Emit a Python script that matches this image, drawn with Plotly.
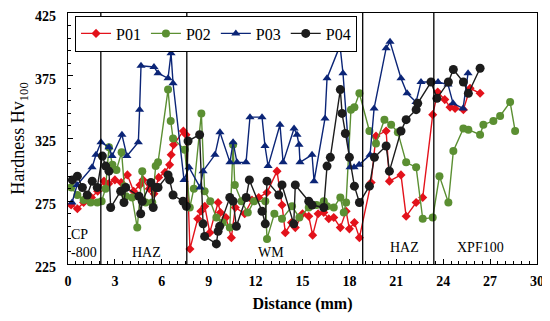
import plotly.graph_objects as go

# ---------------- data ----------------
p01_x = [0.2, 0.6, 1.0, 1.5, 1.9, 2.3, 2.6, 3.0, 3.4, 3.8, 4.2, 4.6, 4.8, 5.2, 5.5, 5.8, 6.2, 6.5, 6.6, 6.75,
         7.38, 7.55, 7.8, 8.3, 8.5, 8.75, 9.07, 9.6, 9.75, 10.1, 10.45, 10.7, 11.3, 11.77, 12.2, 12.73, 13.37,
         13.69, 13.9, 14.3, 14.54, 15.0, 15.4, 15.65, 16.0, 16.36, 16.68, 17.0, 17.42, 17.79, 18.0, 18.32,
         18.64, 19.39, 19.7, 20.35, 20.56, 21.3, 21.63, 22.27, 22.69, 23.33, 23.65, 24.1, 24.44, 24.76, 25.29,
         25.72, 26.36]
p01_y = [272, 269, 274, 278, 283, 291, 289, 292, 290, 296, 283, 288, 292, 285, 281, 294, 298, 304, 312, 320,
         331, 328, 237, 261, 267, 271, 250, 274, 266, 262, 246, 270, 265, 276, 278, 282, 299,
         272, 250, 258, 254, 265, 263, 248, 265, 266, 261, 262, 254, 267, 253, 258,
         246, 290, 327, 331, 291, 296, 263, 274, 278, 344, 362, 356, 350, 349, 348,
         365, 361]

p02_x = [0.2, 0.6, 1.0, 1.45, 1.87, 2.15, 2.4, 2.62, 2.84, 3.1, 3.43, 3.6, 3.7, 4.1, 4.43, 4.75, 4.97, 5.39,
         5.61, 5.76, 6.4, 6.57, 6.72, 7.47, 7.79, 8.05, 8.53, 8.74, 9.1, 9.49, 9.9, 10.35, 10.56, 10.67, 11.1,
         11.5, 11.9, 12.62, 12.73, 13.2, 13.69, 14.33, 14.8, 15.4, 15.9, 16.36, 16.57, 17.0, 17.42, 17.64,
         17.79, 18.1, 18.32, 18.64, 19.28, 19.7, 20.24, 20.67, 21.1, 21.63, 22.27, 22.69, 23.33, 23.76,
         24.33, 24.65, 25.29, 25.61, 26.36, 26.57, 27.21, 27.64, 28.28, 28.6]
p02_y = [286, 280, 276, 274, 274, 275, 285, 318, 304, 300, 314, 287, 279, 278, 254, 299, 274, 274,
         303, 306, 364, 339, 325, 316, 270, 285, 345, 283, 275, 262, 258, 254, 320, 288, 275,
         266, 275, 275, 245, 265, 261, 271, 262, 270, 272, 275, 271, 270, 278, 266,
         274, 348, 350, 361, 331, 321, 340, 336, 330, 306, 302, 261, 262, 295,
         274, 315, 333, 332, 328, 336, 339, 343, 354, 331]

p03_x = [0.26, 0.58, 1.54, 1.79, 2.11, 2.62, 2.82, 3.45, 3.77, 4.5, 4.58, 4.67, 5.5, 5.76, 6.4, 6.59, 6.72,
         7.42, 7.74, 8.45, 8.64, 9.4, 9.72, 10.36, 10.56, 10.81, 11.39, 11.64, 12.41, 12.6, 12.8, 13.56,
         13.76, 14.46, 14.65, 14.78, 14.84, 15.61, 15.74, 16.44, 16.57, 17.4, 17.59, 18.04, 18.3, 18.62,
         19.32, 19.58, 20.35, 20.6, 21.3, 21.69, 22.26, 22.58, 23.35, 23.67, 24.31, 24.63, 25.27, 25.59]
p03_y = [274, 288, 302, 312, 322, 318, 311, 328, 311, 322, 348, 383, 382, 377, 373, 393, 369,
         292, 302, 286, 299, 312, 330, 306, 322, 306, 306, 342, 342, 319, 303, 336,
         306, 333, 328, 320, 306, 312, 291, 341, 373, 399, 377, 302, 302, 304,
         312, 349, 397, 402, 373, 361, 354, 370, 370, 370, 368, 353, 349, 377]

p04_x = [0.28, 0.6, 0.92, 1.23, 1.55, 1.87, 2.2, 2.41, 2.62, 2.73, 3.37, 3.58, 3.69, 4.54, 4.65, 4.75, 5.3,
         5.45, 5.61, 5.76, 6.4, 6.5, 6.72, 7.36, 7.57, 7.68, 8.42, 8.64, 8.74, 9.49, 9.6, 9.7, 10.35, 10.56,
         10.77, 11.4, 11.6, 12.41, 12.62, 12.73, 13.48, 13.69, 14.44, 14.54, 15.4, 15.61, 16.36, 16.57,
         16.78, 17.42, 17.53, 17.74, 18.0, 18.32, 18.64, 19.28, 19.6, 20.35, 20.56, 21.3, 21.63, 22.27,
         22.37, 23.22, 23.6, 24.33, 24.65, 25.29, 25.61, 26.36]
p04_y = [292, 295, 286, 280, 291, 286, 311, 303, 299, 270, 283, 274, 286, 279, 265, 275, 290,
         270, 286, 286, 296, 292, 280, 275, 271, 323, 328, 257, 247, 241, 251, 255, 278, 275,
         255, 278, 292, 267, 257, 291, 280, 288, 257, 288, 275, 272, 270, 303,
         310, 364, 345, 329, 310, 287, 274, 287, 310, 319, 299, 331, 340, 348,
         353, 370, 357, 370, 380, 370, 361, 381]

zone_bounds = [2.1, 7.6, 18.85, 23.4]
zone_labels = ["CP<br>-800", "HAZ", "WM", "HAZ", "XPF100"]
zone_label_x = [0.05, 5.0, 13.0, 21.5, 26.4]
zone_label_y = [241, 234, 234, 238, 238]

x_ticks = [0, 3, 6, 9, 12, 15, 18, 21, 24, 27, 30]
y_ticks = [225, 275, 325, 375, 425]

FONT = "Liberation Serif"

series = [
    ("P01", p01_x, p01_y, "#e3121b", "diamond", 7),
    ("P02", p02_x, p02_y, "#5b8f32", "circle", 8),
    ("P03", p03_x, p03_y, "#0b2577", "triangle-up", 8),
    ("P04", p04_x, p04_y, "#1c1c1c", "circle", 9),
]

fig = go.Figure()
for name, xs, ys, col, sym, sz in series:
    fig.add_trace(go.Scatter(
        x=xs, y=ys, name=name, mode="lines+markers",
        line=dict(color=col, width=1.4),
        marker=dict(symbol=sym, size=sz, color=col),
    ))

for b in zone_bounds:
    fig.add_shape(type="line", x0=b, x1=b, y0=225, y1=425, xref="x", yref="y",
                  line=dict(color="black", width=1.3), layer="above")

for t, xx, yy in zip(zone_labels, zone_label_x, zone_label_y):
    fig.add_annotation(x=xx, y=yy, text=t, showarrow=False, xref="x", yref="y",
                       xanchor="left" if t.startswith("CP") else "center", align="left",
                       font=dict(family=FONT, size=14, color="black"))

# the page body has an 8px margin, so the figure is sized to fill the rest of the window
fig.update_layout(
    width=542, height=313,
    margin=dict(l=60, r=13, t=5, b=57),
    paper_bgcolor="white", plot_bgcolor="white",
    showlegend=True,
    legend=dict(orientation="h", x=0.015, y=0.99, xanchor="left", yanchor="top",
                bgcolor="white", bordercolor="black", borderwidth=1,
                font=dict(family=FONT, size=16, color="black"),
                tracegroupgap=0, itemwidth=30),
    font=dict(family=FONT, color="black"),
)

fig.update_xaxes(
    range=[0, 30], tickvals=x_ticks, ticks="inside", ticklen=5, tickcolor="black",
    showline=True, linecolor="black", linewidth=1.3, mirror=True,
    showgrid=False, zeroline=False, automargin=False, ticklabeloverflow="allow",
    tickfont=dict(family=FONT, size=14, color="black", weight="bold"),
    ticklabelstandoff=4,
    minor=dict(dtick=0.5, tick0=0, ticks="inside", ticklen=3, tickcolor="black", showgrid=False),
    title=dict(text="Distance (mm)", font=dict(family=FONT, size=16, color="black", weight="bold"),
               standoff=9),
)
fig.update_yaxes(
    range=[225, 425], tickvals=y_ticks, ticks="inside", ticklen=5, tickcolor="black",
    showline=True, linecolor="black", linewidth=1.3, mirror=True,
    showgrid=False, zeroline=False, automargin=False, ticklabeloverflow="allow",
    tickfont=dict(family=FONT, size=14, color="black", weight="bold"),
    ticklabelstandoff=8, ticklabelshift=3,
    minor=dict(dtick=10, tick0=225, ticks="inside", ticklen=3, tickcolor="black", showgrid=False),
    title=dict(text="Hardness Hv<sub>100</sub>", font=dict(family=FONT, size=18, color="black"),
               standoff=6),
)

fig.write_html("out.html")
